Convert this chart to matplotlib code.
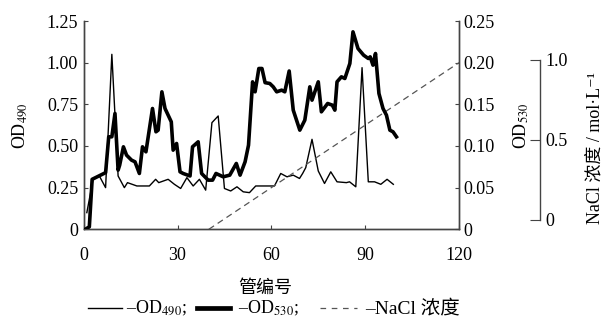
import matplotlib
matplotlib.use("Agg")
import matplotlib.pyplot as plt
from matplotlib.lines import Line2D

plt.rcParams['font.family'] = ['Liberation Serif', 'Noto Sans CJK SC', 'DejaVu Serif']
plt.rcParams['mathtext.fontset'] = 'stix'

# OD490 (thin line, left axis)
od490_tube = [1, 3, 5, 7, 9, 11, 13, 14, 17, 21, 23, 24, 27, 29, 31, 33, 35, 37, 39,
              41, 43, 45, 47, 49, 51, 53, 55, 61, 63, 65, 67, 69, 70, 71, 73, 75, 77,
              79, 81, 84, 85, 87, 89, 91, 93, 95, 97, 99]
od490_val = [0.10, 0.30, 0.32, 0.25, 1.05, 0.32, 0.25, 0.28, 0.26, 0.26, 0.30, 0.28,
             0.30, 0.27, 0.245, 0.31, 0.26, 0.30, 0.235, 0.64, 0.68, 0.245, 0.23, 0.255,
             0.225, 0.22, 0.26, 0.26, 0.335, 0.315, 0.325, 0.305, 0.335, 0.37, 0.54,
             0.35, 0.275, 0.345, 0.285, 0.28, 0.285, 0.255, 0.97, 0.285, 0.285, 0.27,
             0.30, 0.27]

# OD530 (thick line, right axis)
od530_tube = [0.5, 1.8, 2.7, 7, 8, 9, 10, 11, 11.5, 12.7, 13.7, 15.3, 16.4, 17.8, 18.8,
              19.9, 22, 23.1, 23.8, 25, 26, 28, 28.6, 29.7, 30.8, 31.8, 34, 34.8, 36.6,
              37.7, 39.8, 41.2, 42.3, 44.6, 46.7, 48.8, 50, 51.6, 52.7, 54, 54.8, 56,
              57, 58, 59.5, 60.6, 61.7, 63.3, 64.3, 65.7, 67, 69.1, 70.7, 72.3, 73, 75,
              76, 78, 79.5, 80.3, 81, 82.4, 83.5, 85.1, 86.1, 87.7, 89.5, 91, 91.6,
              92.5, 93.3, 94.4, 95.7, 96.8, 97.9, 98.9, 100]
od530_val = [0.0, 0.003, 0.06, 0.068, 0.111, 0.111, 0.139, 0.071, 0.077, 0.099, 0.089,
             0.083, 0.081, 0.067, 0.099, 0.093, 0.145, 0.117, 0.119, 0.165, 0.145, 0.129,
             0.095, 0.103, 0.069, 0.067, 0.064, 0.099, 0.105, 0.067, 0.059, 0.059, 0.067,
             0.063, 0.065, 0.079, 0.065, 0.081, 0.101, 0.177, 0.165, 0.193, 0.193, 0.176,
             0.175, 0.171, 0.165, 0.167, 0.165, 0.190, 0.143, 0.119, 0.131, 0.171, 0.155,
             0.177, 0.141, 0.151, 0.149, 0.143, 0.177, 0.183, 0.181, 0.199, 0.237, 0.217,
             0.209, 0.205, 0.207, 0.197, 0.211, 0.163, 0.145, 0.137, 0.119, 0.117, 0.111]

# NaCl gradient (mol/L)
nacl_tube = [40, 120]
nacl_conc = [0.0, 1.0]

x_ticks = [0, 30, 60, 90, 120]
left_ticks = [0, 0.25, 0.50, 0.75, 1.00, 1.25]
left_labels = ['0', '0.25', '0.50', '0.75', '1.00', '1.25']
right_ticks = [0, 0.05, 0.10, 0.15, 0.20, 0.25]
right_labels = ['0', '0.05', '0.10', '0.15', '0.20', '0.25']
nacl_ticks = [0, 0.5, 1.0]
nacl_labels = ['0', '0.5', '1.0']

W, H = 609, 325
fig = plt.figure(figsize=(W / 100, H / 100), dpi=100)
spc = '#444444'
fs = 13
thin_lw, thick_lw, dash_lw = 1.0, 2.6, 0.9
dash_col = '#555555'

ax = fig.add_axes([83.7 / W, (H - 229.3) / H, (459 - 83.7) / W, 208.3 / H])
ax2 = ax.twinx()

ax.plot(od490_tube, od490_val, color='black', lw=thin_lw, zorder=3)
ax2.plot(od530_tube, od530_val, color='black', lw=thick_lw, zorder=3)
ax2.plot(nacl_tube, [c * 0.2 for c in nacl_conc], color=dash_col, lw=dash_lw,
         dashes=(5, 3.5), zorder=2)

ax.set_xlim(0, 120)
ax.set_ylim(0, 1.25)
ax2.set_ylim(0, 0.25)
ax.set_xticks(x_ticks)
ax.set_xticklabels([str(t) for t in x_ticks], fontsize=fs)
ax.set_yticks(left_ticks)
ax.set_yticklabels(left_labels, fontsize=fs)
ax2.set_yticks(right_ticks)
ax2.set_yticklabels(right_labels, fontsize=fs)

for a in (ax, ax2):
    a.spines['top'].set_visible(False)
    for s in a.spines.values():
        s.set_color(spc)
        s.set_linewidth(1.0)
ax.tick_params(axis='both', direction='in', length=3, width=0.8, color=spc, pad=4)
ax2.tick_params(axis='y', direction='in', length=3, width=0.8, color=spc, pad=3)
ax.tick_params(axis='x', pad=13)

ax.set_ylabel('OD$_{490}$', fontsize=fs, labelpad=13)
ax2.set_ylabel('OD$_{530}$', fontsize=fs, labelpad=12)
fig.text(265 / W, 1 - 288 / H, '管编号', ha='center', va='center', fontsize=fs)

# NaCl axis
ax3 = fig.add_axes([530 / W, (H - 220) / H, 10 / W, 160 / H])
ax3.patch.set_visible(False)
for k in ('top', 'bottom', 'left'):
    ax3.spines[k].set_visible(False)
ax3.spines['right'].set_color(spc)
ax3.spines['right'].set_linewidth(1.0)
ax3.set_xticks([])
ax3.set_ylim(0, 1.0)
ax3.yaxis.tick_right()
ax3.set_yticks(nacl_ticks)
ax3.set_yticklabels(nacl_labels, fontsize=fs)
ax3.tick_params(axis='y', direction='in', length=7, width=0.8, color=spc, pad=4)
fig.text(595 / W, 1 - 148 / H, 'NaCl 浓度 / mol·L⁻¹', rotation=90,
         ha='center', va='center', fontsize=fs)

# Legend (drawn manually)
ly = 1 - 308 / H
legend_items = [
    ((88, 122), dict(color='black', lw=thin_lw), 126, '–OD$_{490}$;', fs),
    ((197, 230), dict(color='black', lw=thick_lw + 0.8), 238, '–OD$_{530}$;', fs),
    ((320, 357), dict(color=dash_col, lw=dash_lw, dashes=(4.5, 4.5)), 365, '–NaCl 浓度', 14),
]
for (x0, x1), style, tx, lab, lfs in legend_items:
    fig.add_artist(Line2D([x0 / W, x1 / W], [ly, ly], transform=fig.transFigure, **style))
    fig.text(tx / W, ly, lab, ha='left', va='center', fontsize=lfs)

fig.savefig('out.png', dpi=100)
